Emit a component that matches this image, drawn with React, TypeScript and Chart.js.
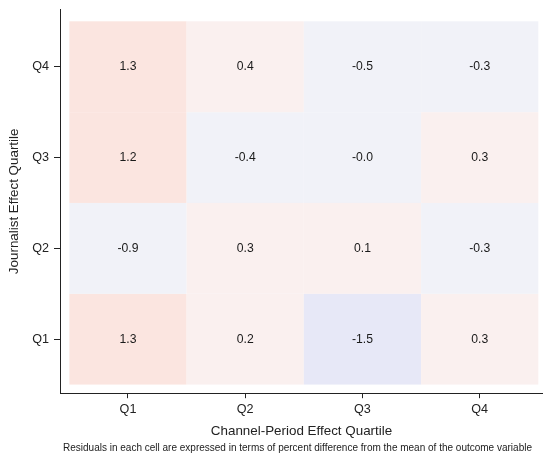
import React, { useEffect, useRef } from "react";
import { Chart, registerables } from "chart.js";

Chart.register(...registerables);

const columnLabels = ["Q1", "Q2", "Q3", "Q4"];
const rowLabels = ["Q1", "Q2", "Q3", "Q4"];
// residuals per row (Journalist quartile Q1..Q4), columns Channel-Period Q1..Q4
const rowQ1 = [1.3, 0.2, -1.5, 0.3];
const rowQ2 = [-0.9, 0.3, 0.1, -0.3];
const rowQ3 = [1.2, -0.4, -0.0, 0.3];
const rowQ4 = [1.3, 0.4, -0.5, -0.3];
const rows = [rowQ1, rowQ2, rowQ3, rowQ4];

const xTitle = "Channel-Period Effect Quartile";
const yTitle = "Journalist Effect Quartile";
const caption =
  "Residuals in each cell are expressed in terms of percent difference from the mean of the outcome variable";

const FONT = "'Liberation Sans', Arial, Helvetica, sans-serif";

function isNeg(v: number) {
  return v < 0 || Object.is(v, -0);
}
function fmt(v: number) {
  return (isNeg(v) ? "-" : "") + Math.abs(v).toFixed(1);
}
function cellColor(v: number) {
  if (isNeg(v)) return Math.abs(v) >= 1 ? "#e7e8f7" : "#f1f2f8";
  return v >= 1 ? "#fbe5e0" : "#faf0ef";
}

const heatPlugin = {
  id: "heatCells",
  beforeDatasetsDraw(chart: any) {
    const { ctx, scales, chartArea } = chart;
    const xs = scales.x;
    const ys = scales.y;
    const data = chart.data.datasets[0].data as any[];
    ctx.save();
    ctx.beginPath();
    ctx.rect(chartArea.left, chartArea.top, chartArea.right - chartArea.left, chartArea.bottom - chartArea.top);
    ctx.clip();
    for (const d of data) {
      const x0 = xs.getPixelForValue(d.x - 0.5);
      const x1 = xs.getPixelForValue(d.x + 0.5);
      const y0 = ys.getPixelForValue(d.y + 0.5);
      const y1 = ys.getPixelForValue(d.y - 0.5);
      ctx.fillStyle = cellColor(d.v);
      ctx.fillRect(x0, y0, x1 - x0, y1 - y0);
    }
    ctx.fillStyle = "#1a1a1a";
    ctx.font = `12.2px ${FONT}`;
    ctx.textAlign = "center";
    ctx.textBaseline = "middle";
    for (const d of data) {
      ctx.fillText(fmt(d.v), xs.getPixelForValue(d.x), ys.getPixelForValue(d.y));
    }
    ctx.restore();
  },
  afterDraw(chart: any) {
    const { ctx, chartArea, height } = chart;
    ctx.save();
    ctx.fillStyle = "#222";
    ctx.font = `10px ${FONT}`;
    ctx.textAlign = "center";
    ctx.textBaseline = "middle";
    ctx.fillText(caption, (chartArea.left + chartArea.right) / 2 - 4, height - 9);
    ctx.restore();
  },
};

export default function App() {
  const ref = useRef<HTMLCanvasElement>(null);
  useEffect(() => {
    document.body.style.margin = "0";
    const points: any[] = [];
    rows.forEach((row, r) =>
      row.forEach((v, c) => points.push({ x: c + 1, y: r + 1, v }))
    );
    const axisColor = "#222";
    const chart = new Chart(ref.current!, {
      type: "scatter",
      data: {
        datasets: [
          {
            data: points,
            pointRadius: 0,
            pointHoverRadius: 0,
          },
        ],
      },
      plugins: [heatPlugin],
      options: {
        animation: false,
        responsive: true,
        maintainAspectRatio: false,
        layout: { padding: { top: 9.5, right: 0, left: 0, bottom: 0 } },
        plugins: {
          legend: { display: false },
          tooltip: { enabled: false },
        },
        scales: {
          x: {
            type: "linear",
            min: 0.42,
            max: 4.54,
            afterBuildTicks: (s: any) => {
              s.ticks = columnLabels.map((_, i) => ({ value: i + 1 }));
            },
            afterFit: (s: any) => {
              s.height = 63.8;
              s.paddingLeft = 0;
              s.paddingRight = 0;
            },
            ticks: {
              callback: (_v: any, i: number) => columnLabels[i],
              color: "#222",
              font: { size: 12.6, family: FONT },
              padding: 4,
              maxRotation: 0,
            },
            grid: {
              drawOnChartArea: false,
              drawTicks: true,
              tickLength: 5,
              color: axisColor,
            },
            border: { display: true, color: axisColor, width: 1 },
            title: {
              display: true,
              text: xTitle,
              color: "#222",
              font: { size: 13.4, family: FONT },
              padding: { top: 0, bottom: 18 },
            },
          },
          y: {
            type: "linear",
            min: 0.405,
            max: 4.63,
            afterBuildTicks: (s: any) => {
              s.ticks = rowLabels.map((_, i) => ({ value: i + 1 }));
            },
            afterFit: (s: any) => {
              s.width = 60;
              s.paddingTop = 0;
              s.paddingBottom = 0;
            },
            ticks: {
              callback: (_v: any, i: number) => rowLabels[i],
              color: "#222",
              font: { size: 12.6, family: FONT },
              padding: 5,
            },
            grid: {
              drawOnChartArea: false,
              drawTicks: true,
              tickLength: 6,
              color: axisColor,
            },
            border: { display: true, color: axisColor, width: 1 },
            title: {
              display: true,
              text: yTitle,
              color: "#222",
              font: { size: 13.4, family: FONT },
              padding: { top: 6, bottom: 0 },
            },
          },
        },
      },
    });
    return () => chart.destroy();
  }, []);
  return (
    <div style={{ position: "relative", width: 543, height: 457 }}>
      <canvas ref={ref} />
    </div>
  );
}
